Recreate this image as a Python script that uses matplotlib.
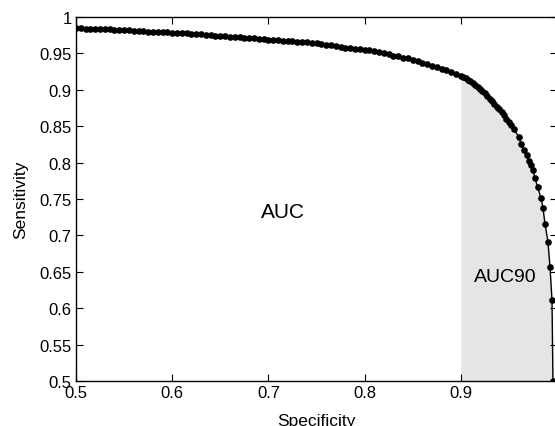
import matplotlib
matplotlib.use('Agg')
import matplotlib.pyplot as plt
import numpy as np

# ROC curve points (specificity, sensitivity)
specificity = [
    0.500, 0.505, 0.510, 0.515, 0.520, 0.525, 0.530, 0.535, 0.540, 0.545,
    0.550, 0.555, 0.560, 0.565, 0.570, 0.575, 0.580, 0.585, 0.590, 0.595,
    0.600, 0.605, 0.610, 0.615, 0.620, 0.625, 0.630, 0.635, 0.640, 0.645,
    0.650, 0.655, 0.660, 0.665, 0.670, 0.675, 0.680, 0.685, 0.690, 0.695,
    0.700, 0.705, 0.710, 0.715, 0.720, 0.725, 0.730, 0.735, 0.740, 0.745,
    0.750, 0.755, 0.760, 0.765, 0.770, 0.775, 0.780, 0.785, 0.790, 0.795,
    0.800, 0.805, 0.810, 0.815, 0.820, 0.825, 0.830, 0.835, 0.840, 0.845,
    0.850, 0.855, 0.860, 0.865, 0.870, 0.875, 0.880, 0.885, 0.890, 0.895,
    0.900, 0.9025, 0.905, 0.9075, 0.910, 0.9125, 0.915, 0.9175, 0.920, 0.9225,
    0.925, 0.9275, 0.930, 0.9325, 0.935, 0.9375, 0.940, 0.9425, 0.945, 0.9475,
    0.950, 0.9525, 0.955, 0.9605, 0.9626, 0.9657, 0.9688, 0.9709, 0.973, 0.975,
    0.977, 0.980, 0.9834, 0.9854, 0.9875, 0.9906, 0.9927, 0.9948, 0.9958,
]
sensitivity = [
    0.985, 0.9845, 0.984, 0.984, 0.9835, 0.9835, 0.983, 0.983, 0.9825, 0.982,
    0.982, 0.9815, 0.981, 0.981, 0.9805, 0.980, 0.980, 0.9795, 0.979, 0.979,
    0.9785, 0.978, 0.978, 0.9775, 0.977, 0.9765, 0.976, 0.9755, 0.975, 0.9745,
    0.974, 0.9735, 0.973, 0.9725, 0.972, 0.9715, 0.971, 0.9705, 0.970, 0.9695,
    0.969, 0.9685, 0.968, 0.9675, 0.967, 0.9665, 0.966, 0.9655, 0.965, 0.9645,
    0.964, 0.963, 0.962, 0.961, 0.960, 0.959, 0.958, 0.957, 0.9565, 0.956,
    0.955, 0.954, 0.953, 0.952, 0.950, 0.949, 0.947, 0.946, 0.944, 0.943,
    0.941, 0.939, 0.937, 0.935, 0.933, 0.931, 0.929, 0.927, 0.925, 0.922,
    0.919, 0.9175, 0.916, 0.914, 0.912, 0.9095, 0.907, 0.904, 0.901, 0.898,
    0.895, 0.8915, 0.888, 0.8845, 0.881, 0.877, 0.873, 0.869, 0.865, 0.8605,
    0.856, 0.851, 0.846, 0.835, 0.826, 0.817, 0.810, 0.802, 0.797, 0.790,
    0.779, 0.766, 0.751, 0.738, 0.716, 0.691, 0.657, 0.611, 0.500,
]

spec_cut = 0.9

x = np.array(specificity)
y = np.array(sensitivity)

plt.rcParams['font.family'] = ['Liberation Sans', 'DejaVu Sans']

my_dpi = 100
fig = plt.figure(figsize=(555 / my_dpi, 427 / my_dpi), dpi=my_dpi)
ax = fig.add_axes([76 / 555, 1 - 382 / 427, 481 / 555, 364 / 427])

# shaded AUC90 region (specificity >= 0.9)
mask = x >= spec_cut
ax.fill_between(x[mask], 0.5, y[mask], color='#e5e5e5', linewidth=0, zorder=1)

ax.plot(x, y, color='black', linewidth=1.0, marker='o', markersize=4.8,
        markeredgewidth=0, zorder=3)

ax.text(0.715, 0.733, 'AUC', fontsize=15, ha='center', va='center')
ax.text(0.946, 0.643, 'AUC90', fontsize=14, ha='center', va='center')

ax.set_xlim(0.5, 1.0)
ax.set_ylim(0.5, 1.0)
ax.set_xticks([0.5, 0.6, 0.7, 0.8, 0.9])
ax.set_xticklabels(['0.5', '0.6', '0.7', '0.8', '0.9'])
ax.set_yticks([0.5, 0.55, 0.6, 0.65, 0.7, 0.75, 0.8, 0.85, 0.9, 0.95, 1.0])
ax.set_yticklabels(['0.5', '0.55', '0.6', '0.65', '0.7', '0.75', '0.8',
                    '0.85', '0.9', '0.95', '1'])
ax.tick_params(direction='in', length=5, width=0.8, top=True, right=True,
               labelsize=12, pad=3)
for s in ax.spines.values():
    s.set_linewidth(1.0)

ax.set_xlabel('Specificity', fontsize=12.5, labelpad=9)
ax.set_ylabel('Sensitivity', fontsize=12.5, labelpad=8)

fig.savefig('out.png', dpi=my_dpi)
